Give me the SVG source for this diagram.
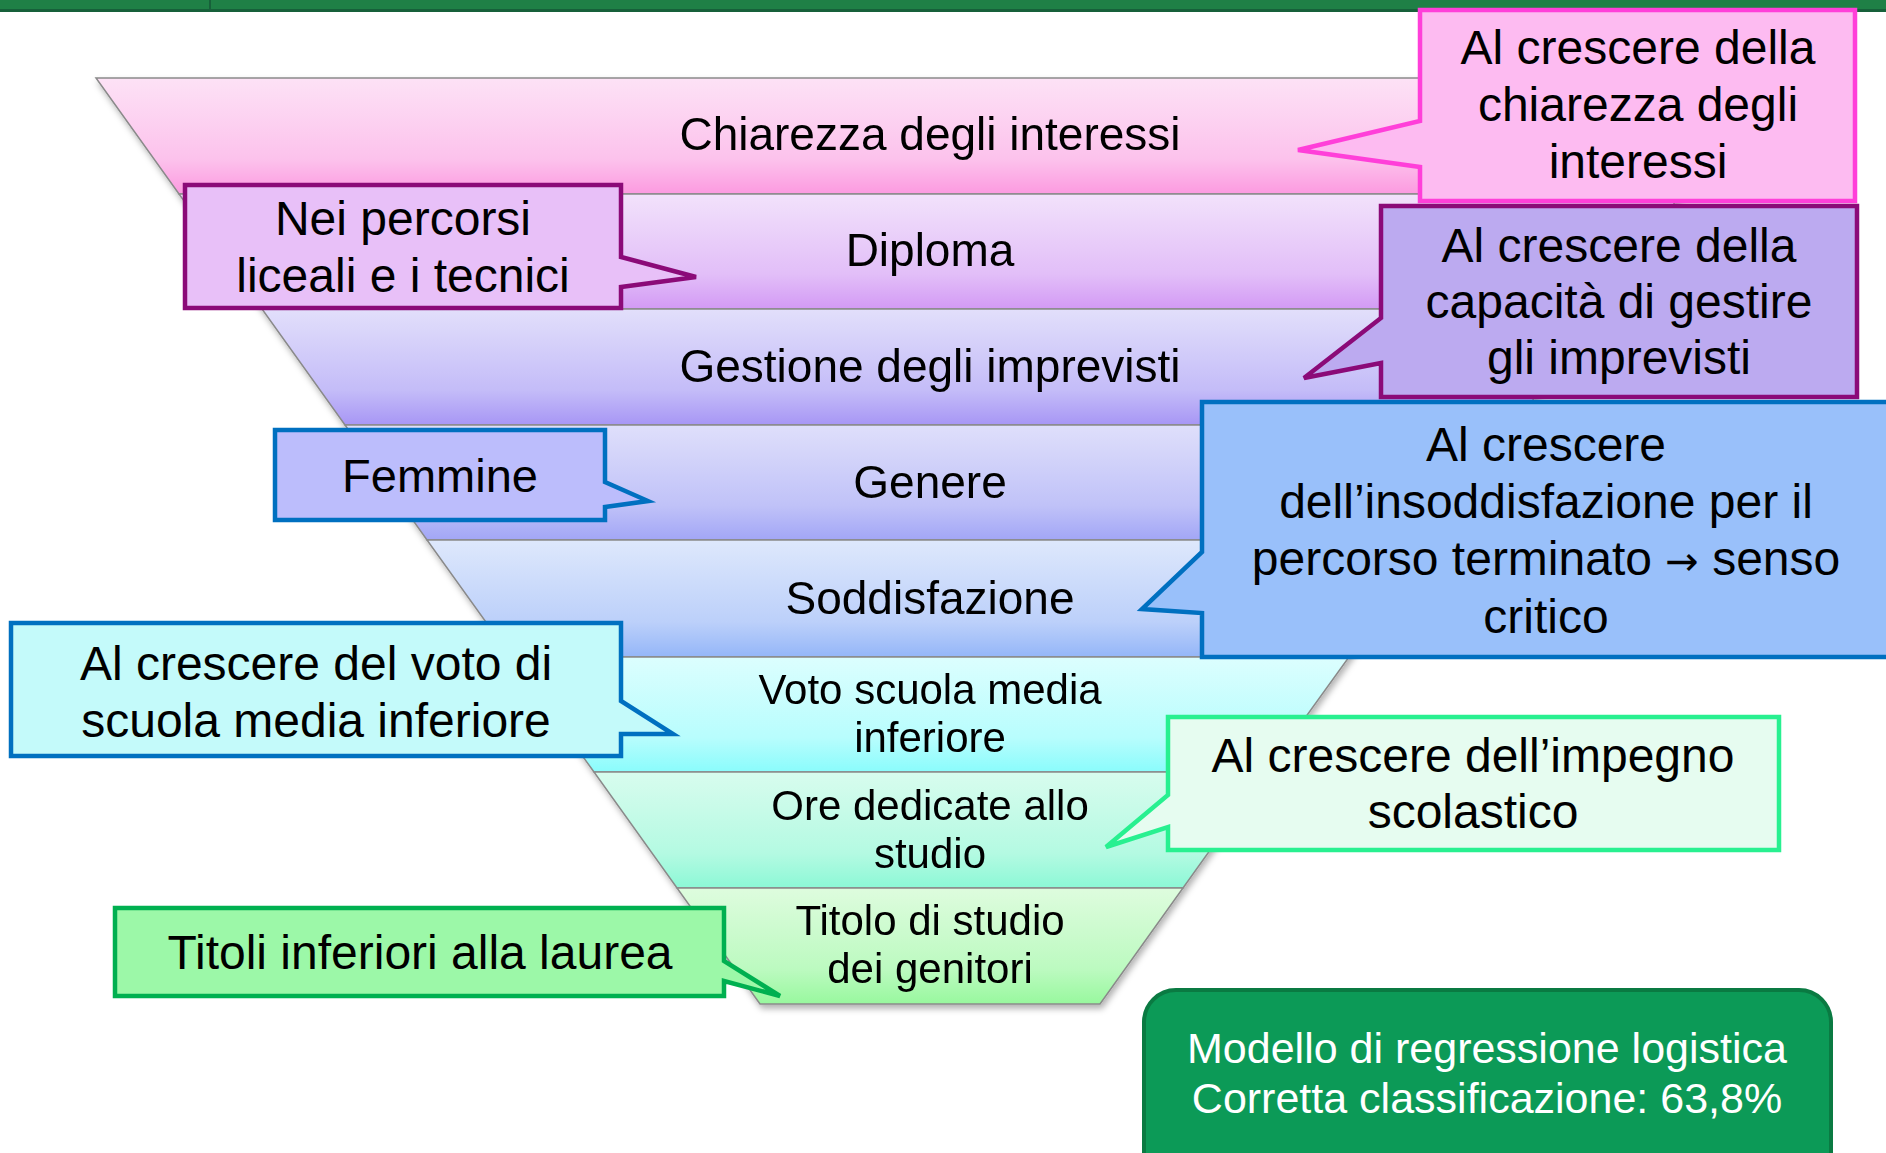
<svg xmlns="http://www.w3.org/2000/svg" width="1886" height="1153" viewBox="0 0 1886 1153">
<style>
.t{font-family:"Liberation Sans",Arial,sans-serif;fill:#000;text-anchor:middle}
.lt{font-size:46px}
.lt2{font-size:42px}
.ct{font-size:48px}
.ft{font-size:47px}
.mt{font-size:43px;fill:#fff}
.ar{font-family:"DejaVu Sans",sans-serif;font-size:40px}
.layer{stroke:#8a8a8a;stroke-width:1.5}
.co{stroke-width:4.5;stroke-linejoin:miter}
</style>
<defs>
<linearGradient id="g1" x1="0" y1="0" x2="0" y2="1"><stop offset="0" stop-color="#fde2f6"/><stop offset="0.7" stop-color="#fcc2ec"/><stop offset="1" stop-color="#fc9ae0"/></linearGradient>
<linearGradient id="g2" x1="0" y1="0" x2="0" y2="1"><stop offset="0" stop-color="#f2e2fb"/><stop offset="0.7" stop-color="#e2bef8"/><stop offset="1" stop-color="#d39af5"/></linearGradient>
<linearGradient id="g3" x1="0" y1="0" x2="0" y2="1"><stop offset="0" stop-color="#e2dffb"/><stop offset="0.7" stop-color="#c4bcf8"/><stop offset="1" stop-color="#a796f5"/></linearGradient>
<linearGradient id="g4" x1="0" y1="0" x2="0" y2="1"><stop offset="0" stop-color="#dfdffb"/><stop offset="0.7" stop-color="#c0c2f8"/><stop offset="1" stop-color="#a2a6f6"/></linearGradient>
<linearGradient id="g5" x1="0" y1="0" x2="0" y2="1"><stop offset="0" stop-color="#dee8fc"/><stop offset="0.7" stop-color="#bcd0fa"/><stop offset="1" stop-color="#94b6f8"/></linearGradient>
<linearGradient id="g6" x1="0" y1="0" x2="0" y2="1"><stop offset="0" stop-color="#dcfefe"/><stop offset="0.7" stop-color="#b8fdfd"/><stop offset="1" stop-color="#8afcfc"/></linearGradient>
<linearGradient id="g7" x1="0" y1="0" x2="0" y2="1"><stop offset="0" stop-color="#d8fcee"/><stop offset="0.7" stop-color="#b4fae2"/><stop offset="1" stop-color="#8cf8d6"/></linearGradient>
<linearGradient id="g8" x1="0" y1="0" x2="0" y2="1"><stop offset="0" stop-color="#defcde"/><stop offset="0.7" stop-color="#bcfac0"/><stop offset="1" stop-color="#98f89e"/></linearGradient>
<filter id="sh" x="-5%" y="-5%" width="110%" height="115%"><feDropShadow dx="2" dy="4" stdDeviation="3" flood-color="#000" flood-opacity="0.3"/></filter>
</defs>
<rect width="1886" height="1153" fill="#fff"/>
<g id="topbar">
<rect x="0" y="0" width="1886" height="11" fill="#1f8046"/>
<rect x="0" y="9" width="1886" height="3" fill="#17603a"/>
<line x1="210" y1="0" x2="210" y2="11" stroke="#17603a" stroke-width="2"/>
</g>
<g id="funnel" filter="url(#sh)">
<g id="layer1"><polygon class="layer" points="96,78 1764,78 1681,194 179,194" fill="url(#g1)"/><text class="t lt" x="930" y="150">Chiarezza degli interessi</text></g>
<g id="layer2"><polygon class="layer" points="179,194 1681,194 1598,309 262,309" fill="url(#g2)"/><text class="t lt" x="930" y="266">Diploma</text></g>
<g id="layer3"><polygon class="layer" points="262,309 1598,309 1515,425 345,425" fill="url(#g3)"/><text class="t lt" x="930" y="382">Gestione degli imprevisti</text></g>
<g id="layer4"><polygon class="layer" points="345,425 1515,425 1433,540 427,540" fill="url(#g4)"/><text class="t lt" x="930" y="498">Genere</text></g>
<g id="layer5"><polygon class="layer" points="427,540 1433,540 1349,657 511,657" fill="url(#g5)"/><text class="t lt" x="930" y="614">Soddisfazione</text></g>
<g id="layer6"><polygon class="layer" points="511,657 1349,657 1266,772 594,772" fill="url(#g6)"/><text class="t lt2" x="930" y="704">Voto scuola media</text><text class="t lt2" x="930" y="752">inferiore</text></g>
<g id="layer7"><polygon class="layer" points="594,772 1266,772 1183,888 677,888" fill="url(#g7)"/><text class="t lt2" x="930" y="820">Ore dedicate allo</text><text class="t lt2" x="930" y="868">studio</text></g>
<g id="layer8"><polygon class="layer" points="677,888 1183,888 1100,1004 760,1004" fill="url(#g8)"/><text class="t lt2" x="930" y="935">Titolo di studio</text><text class="t lt2" x="930" y="983">dei genitori</text></g>
</g>
<g id="connectors"/>
<g id="callout-chiarezza">
<path class="co" d="M1420,10 H1855 V201 H1420 V167 L1298,150 L1420,121 Z" fill="#fdbbf1" stroke="#ff3fd9"/>
<text class="t ct" x="1638" y="64">Al crescere della</text>
<text class="t ct" x="1638" y="121">chiarezza degli</text>
<text class="t ct" x="1638" y="178">interessi</text>
</g>
<g id="callout-percorsi">
<path class="co" d="M185,185 H621 V257 L696,277 L621,287 V308 H185 Z" fill="#e8c0f8" stroke="#8b0a78"/>
<text class="t ct" x="403" y="235">Nei percorsi</text>
<text class="t ct" x="403" y="292">liceali e i tecnici</text>
</g>
<g id="callout-imprevisti">
<path class="co" d="M1381,206 H1857 V397 H1381 V363 L1304,378 L1381,318 Z" fill="#bcaaf0" stroke="#8b0a78"/>
<text class="t ct" x="1619" y="262">Al crescere della</text>
<text class="t ct" x="1619" y="318">capacità di gestire</text>
<text class="t ct" x="1619" y="374">gli imprevisti</text>
</g>
<g id="callout-femmine">
<path class="co" d="M275,430 H605 V482 L648,501 L605,507 V520 H275 Z" fill="#bcbdfc" stroke="#0070c0"/>
<text class="t ft" x="440" y="492">Femmine</text>
</g>
<g id="callout-soddisfazione">
<path class="co" d="M1202,402 H1896 V657 H1202 V613 L1142,609 L1202,552 Z" fill="#99c0fa" stroke="#0070c0"/>
<text class="t ct" x="1546" y="461">Al crescere</text>
<text class="t ct" x="1546" y="518">dell’insoddisfazione per il</text>
<text class="t ct" x="1546" y="575">percorso terminato <tspan class="ar">→</tspan> senso</text>
<text class="t ct" x="1546" y="633">critico</text>
</g>
<g id="callout-voto">
<path class="co" d="M11,623 H621 V701 L673,734 L621,734 V756 H11 Z" fill="#c4fafa" stroke="#0070c0"/>
<text class="t ct" x="316" y="680">Al crescere del voto di</text>
<text class="t ct" x="316" y="737">scuola media inferiore</text>
</g>
<g id="callout-impegno">
<path class="co" d="M1168,717 H1779 V850 H1168 V827 L1106,847 L1168,795 Z" fill="#e6fcf0" stroke="#28f090"/>
<text class="t ct" x="1473" y="772">Al crescere dell’impegno</text>
<text class="t ct" x="1473" y="828">scolastico</text>
</g>
<g id="callout-titoli">
<path class="co" d="M115,908 H724 V961 L780,996 L724,981 V996 H115 Z" fill="#9cf8a8" stroke="#00b050"/>
<text class="t ct" x="420" y="969">Titoli inferiori alla laurea</text>
</g>
<g id="model-box">
<rect x="1144" y="990" width="687" height="200" rx="32" fill="#0c9a57" stroke="#0a7a42" stroke-width="4"/>
<text class="t mt" x="1487" y="1063">Modello di regressione logistica</text>
<text class="t mt" x="1487" y="1113">Corretta classificazione: 63,8%</text>
</g>
</svg>
